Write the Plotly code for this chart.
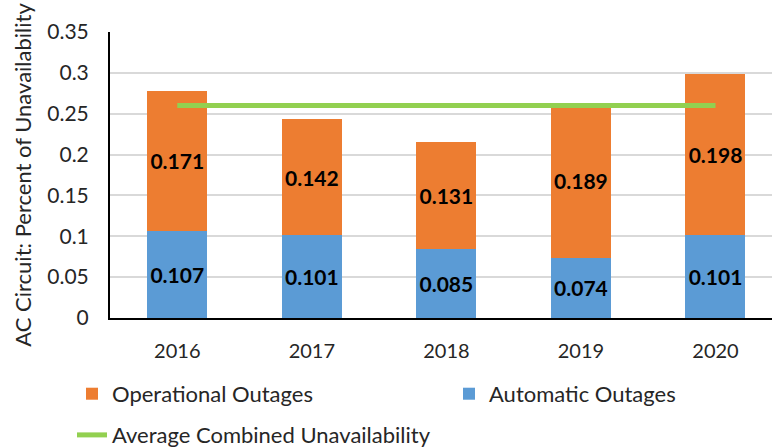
import plotly.graph_objects as go

years = ["2016", "2017", "2018", "2019", "2020"]
automatic = [0.107, 0.101, 0.085, 0.074, 0.101]
operational = [0.171, 0.142, 0.131, 0.189, 0.198]
average_combined = [0.26, 0.26, 0.26, 0.26, 0.26]
y_ticks = [0, 0.05, 0.1, 0.15, 0.2, 0.25, 0.3, 0.35]
y_tick_text = ["0", "0.05", "0.1", "0.15", "0.2", "0.25", "0.3", "0.35"]

FONT = "Lato, 'Open Sans', sans-serif"
TEXT = "#262626"
label_font = dict(family=FONT, size=21, color="black", weight="bold")

fig = go.Figure()
fig.add_trace(go.Bar(
    x=years, y=automatic, name="Automatic Outages",
    marker=dict(color="#5B9BD5", line=dict(width=0)),
    text=[f"{v:.3f}" for v in automatic], textposition="inside",
    insidetextanchor="middle", textfont=label_font, textangle=0,
    legendrank=2, legend="legend",
))
fig.add_trace(go.Bar(
    x=years, y=operational, name="Operational Outages",
    marker=dict(color="#ED7D31", line=dict(width=0)),
    text=[f"{v:.3f}" for v in operational], textposition="inside",
    insidetextanchor="middle", textfont=label_font, textangle=0,
    legendrank=1, legend="legend",
))
fig.add_trace(go.Scatter(
    x=years, y=average_combined, name="Average Combined Unavailability",
    mode="lines", line=dict(color="#92D050", width=5),
    legend="legend2",
))

fig.update_layout(
    width=772, height=448,
    barmode="stack", bargap=0.554,
    paper_bgcolor="white", plot_bgcolor="white",
    margin=dict(l=110, r=0, t=32, b=130, autoexpand=False),
    font=dict(family=FONT, size=21, color=TEXT),
    uniformtext=dict(minsize=21, mode="show"),
    legend=dict(
        orientation="h", x=-0.0574, xanchor="left", y=-0.192, yanchor="top",
        entrywidth=332, font=dict(size=22, color=TEXT),
        traceorder="normal", itemwidth=30,
    ),
    legend2=dict(
        orientation="h", x=-0.0574, xanchor="left", y=-0.336, yanchor="top",
        font=dict(size=22, color=TEXT), itemwidth=30,
    ),
    showlegend=True,
)
fig.update_xaxes(
    range=[-0.5, 4.42], showline=True, linecolor="black", linewidth=2,
    ticks="", tickfont=dict(size=20), showgrid=False, ticklabelstandoff=14,
)
fig.update_yaxes(
    range=[0, 0.35], tickvals=y_ticks, ticktext=y_tick_text,
    showline=True, linecolor="black", linewidth=2,
    showgrid=True, gridcolor="#D9D9D9", gridwidth=1.5,
    tickfont=dict(size=21), ticks="", ticklabelstandoff=15,
    title=dict(text="AC Circuit: Percent of Unavailability", font=dict(size=22), standoff=10),
    zeroline=False,
)

fig.write_html(
    "out.html",
    config={"displayModeBar": False},
    post_script="document.body.style.margin='0';document.body.style.padding='0';",
)
